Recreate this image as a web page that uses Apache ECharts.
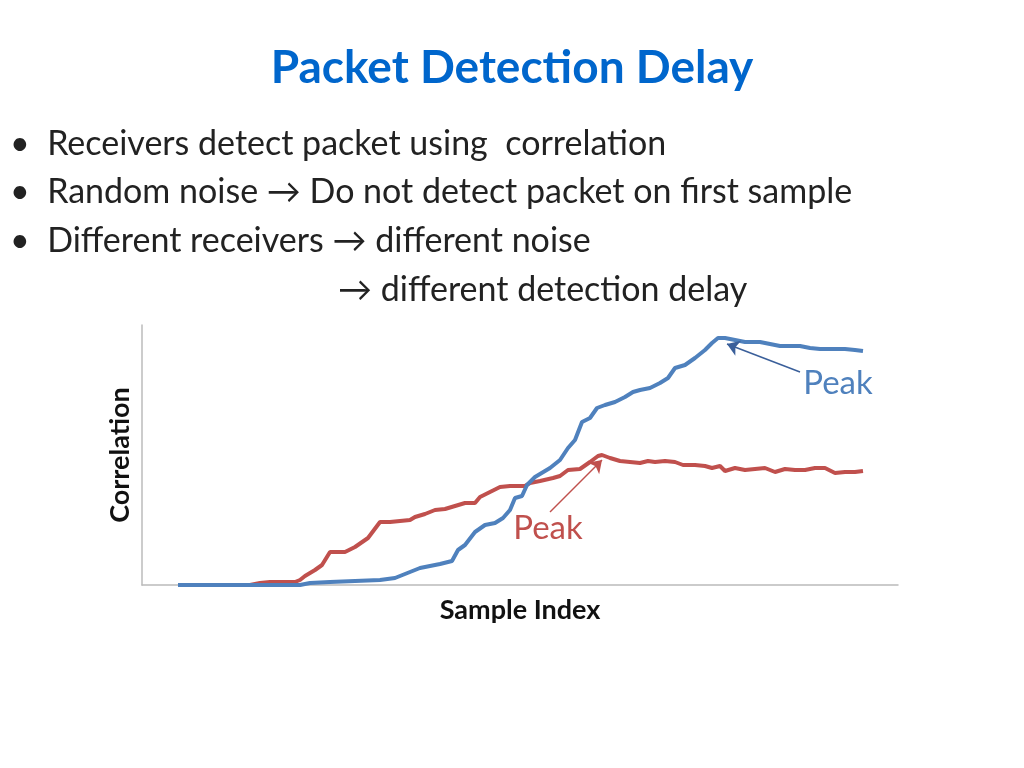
<!DOCTYPE html>
<html>
<head>
<meta charset="utf-8">
<script src="https://cdn.jsdelivr.net/npm/echarts@6/dist/echarts.min.js"></script>
<style>html,body{margin:0;padding:0;background:#fff}#c{width:1024px;height:768px}</style>
</head>
<body>
<div id="c"></div>
<script>
// sample index / correlation
const blueX = [0,122,132,152,202,217,222,232,242,262,274,280,287,297,307,317,325,332,337,344,349,357,372,382,390,397,404,412,419,427,437,447,455,462,472,482,490,497,507,517,527,534,540,547,557,567,582,592,602,612,622,632,642,652,667,677,685];
const blueY = [0,0,2,3,5,7,9,13,17,21,24,35,40,53,60,62,67,75,87,89,100,108,117,125,137,145,163,167,177,180,183,188,193,195,197,202,207,217,220,227,235,242,247,247,245,243,243,241,239,239,239,237,236,236,236,235,234];
const redX = [0,22,72,82,92,117,122,127,137,144,152,167,177,190,202,212,222,232,237,247,257,267,277,287,297,302,312,322,332,347,352,362,375,382,390,402,412,420,424,432,442,452,462,470,477,487,497,505,517,527,534,542,547,557,567,577,587,597,607,617,627,637,647,657,667,677,685];
const redY = [0,0,0,2,3,3,5,9,15,20,33,33,38,47,63,63,64,65,68,71,75,76,79,82,82,88,93,98,99,99,102,104,107,109,115,116,123,129,130,127,124,123,122,124,123,124,123,120,120,119,117,119,114,117,115,116,117,113,116,115,115,117,117,112,113,113,114];
const peakBlue = [547,247];
const peakRed = [424,130];

const chart = echarts.init(document.getElementById('c'));
const font = 'Lato, "Open Sans", sans-serif';
const pairs = (xs, ys) => xs.map((x, i) => [x, ys[i]]);

const bullets = [
  ['•  Receivers detect packet using  correlation', 147],
  ['•  Random noise → Do not detect packet on first sample', 195],
  ['•  Different receivers → different noise', 244],
  ['→ different detection delay', 293]
];

const peakLabel = (coord, color) => ({
  coord: coord, symbol: 'circle', symbolSize: 1,
  itemStyle: {color: 'rgba(0,0,0,0)'},
  label: {show: true, position: 'inside', formatter: 'Peak', color: color, fontSize: 33, fontFamily: font}
});

const option = {
  animation: false,
  title: {
    text: 'Packet Detection Delay', left: 'center', top: 40,
    textStyle: {color: '#0066CC', fontSize: 46, fontWeight: 'bold', fontFamily: font}
  },
  graphic: bullets.map((b, i) => ({
    type: 'text', left: i === 3 ? 338 : 10, top: b[1] - 20,
    style: {text: b[0], fontSize: 34, fill: '#222', fontFamily: font}
  })),
  grid: {left: 142, right: 126, top: 325, bottom: 183},
  xAxis: {
    type: 'value', min: -36, max: 720,
    name: 'Sample Index', nameLocation: 'middle', nameGap: 12,
    nameTextStyle: {fontSize: 27, fontWeight: 'bold', color: '#111', fontFamily: font},
    axisLine: {lineStyle: {color: '#bbb', width: 1.5}}, axisTick: {show: false},
    axisLabel: {show: false}, splitLine: {show: false}
  },
  yAxis: {
    type: 'value', min: 0, max: 260,
    name: 'Correlation', nameLocation: 'middle', nameGap: 8,
    nameTextStyle: {fontSize: 27, fontWeight: 'bold', color: '#111', fontFamily: font},
    axisLine: {show: true, onZero: false, lineStyle: {color: '#bbb', width: 1.5}}, axisTick: {show: false},
    axisLabel: {show: false}, splitLine: {show: false}
  },
  series: [
    {
      type: 'line', data: pairs(blueX, blueY), showSymbol: false,
      lineStyle: {color: '#4F81BD', width: 4}, z: 3,
      markLine: {
        silent: true, symbol: ['none', 'arrow'], symbolSize: 12,
        lineStyle: {color: '#3A5F9A', width: 1.5, type: 'solid'}, label: {show: false},
        data: [[{coord: [622, 213]}, {coord: [peakBlue[0] + 2, peakBlue[1] - 6]}]]
      },
      markPoint: {data: [peakLabel([660, 202], '#4F81BD')]}
    },
    {
      type: 'line', data: pairs(redX, redY), showSymbol: false,
      lineStyle: {color: '#C0504D', width: 4}, z: 2,
      markLine: {
        silent: true, symbol: ['none', 'arrow'], symbolSize: 12,
        lineStyle: {color: '#C0504D', width: 1.5, type: 'solid'}, label: {show: false},
        data: [[{coord: [372, 73]}, {coord: [peakRed[0], peakRed[1] - 5]}]]
      },
      markPoint: {data: [peakLabel([370, 57], '#C0504D')]}
    }
  ]
};
chart.setOption(option);
</script>
</body>
</html>
